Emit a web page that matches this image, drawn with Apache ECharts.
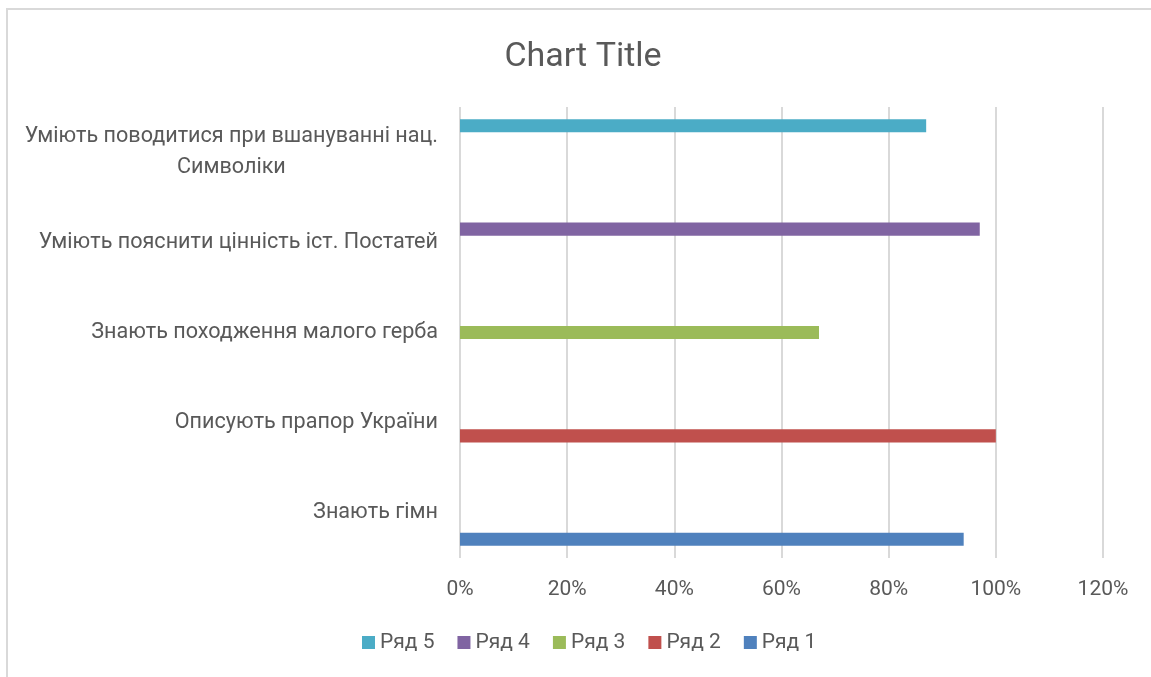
<!DOCTYPE html>
<html>
<head>
<meta charset="utf-8">
<script src="https://cdn.jsdelivr.net/npm/echarts@6/dist/echarts.min.js"></script>
<style>
  html, body { margin: 0; padding: 0; background: #ffffff; }
  #chart { width: 1151px; height: 677px; }
</style>
</head>
<body>
<div id="chart"></div>
<script>
// Categories, bottom to top
const categories = [
  'Знають гімн',
  'Описують прапор України',
  'Знають походження малого герба',
  'Уміють пояснити цінність іст. Постатей',
  'Уміють поводитися при вшануванні нац.\nСимволіки'
];
// Series values (fractions), one value per category
const ryad1 = [0.94, null, null, null, null];
const ryad2 = [null, 1.00, null, null, null];
const ryad3 = [null, null, 0.67, null, null];
const ryad4 = [null, null, null, 0.97, null];
const ryad5 = [null, null, null, null, 0.87];
const seriesNames = ['Ряд 5', 'Ряд 4', 'Ряд 3', 'Ряд 2', 'Ряд 1'];
const seriesValues = [ryad5, ryad4, ryad3, ryad2, ryad1];
const seriesColors = ['#4BACC6', '#8064A2', '#9BBB59', '#C0504D', '#4F81BD'];
const xTicks = [0, 0.2, 0.4, 0.6, 0.8, 1.0, 1.2];

const FONT = 'Roboto';
const TXT = '#595959';

const chart = echarts.init(document.getElementById('chart'), null, { renderer: 'canvas' });

const series = seriesNames.map((name, i) => ({
  name: name,
  type: 'bar',
  data: seriesValues[i],
  itemStyle: { color: seriesColors[i] },
  barGap: '0%',
  barCategoryGap: '27%',
  animation: false
}));

chart.setOption({
  animation: false,
  backgroundColor: '#ffffff',
  title: {
    text: 'Chart Title',
    left: 578,
    top: 35,
    textAlign: 'center',
    textStyle: { fontFamily: FONT, fontSize: 34, fontWeight: 'normal', color: TXT }
  },
  graphic: [{
    type: 'rect',
    shape: { x: 7, y: 9, width: 1300, height: 800 },
    style: { fill: 'none', stroke: '#d9d9d9', lineWidth: 2 },
    silent: true,
    z: -10
  }],
  legend: {
    data: seriesNames,
    left: 362,
    top: 632,
    padding: 0,
    icon: 'rect',
    itemWidth: 13,
    itemHeight: 13,
    itemGap: 23,
    textStyle: { fontFamily: FONT, fontSize: 21, color: TXT }
  },
  grid: { left: 460, right: 48, top: 107, bottom: 119, containLabel: false },
  xAxis: {
    type: 'value',
    min: xTicks[0],
    max: xTicks[xTicks.length - 1],
    interval: 0.2,
    axisLine: { show: false },
    axisTick: { show: false },
    splitLine: { show: true, lineStyle: { color: '#d9d9d9', width: 2 } },
    axisLabel: {
      margin: 21,
      fontFamily: FONT,
      fontSize: 21,
      color: TXT,
      formatter: v => Math.round(v * 100) + '%'
    }
  },
  yAxis: {
    type: 'category',
    data: categories,
    axisLine: { show: false },
    axisTick: { show: false },
    axisLabel: {
      margin: 22,
      fontFamily: FONT,
      fontSize: 21.6,
      color: TXT,
      lineHeight: 31,
      formatter: v => v.split('\n').map(l => '{c|' + l + '}').join('\n'),
      rich: { c: { align: 'center', fontFamily: FONT, fontSize: 21.6, color: TXT, lineHeight: 31 } }
    }
  },
  series: series
});
</script>
</body>
</html>
